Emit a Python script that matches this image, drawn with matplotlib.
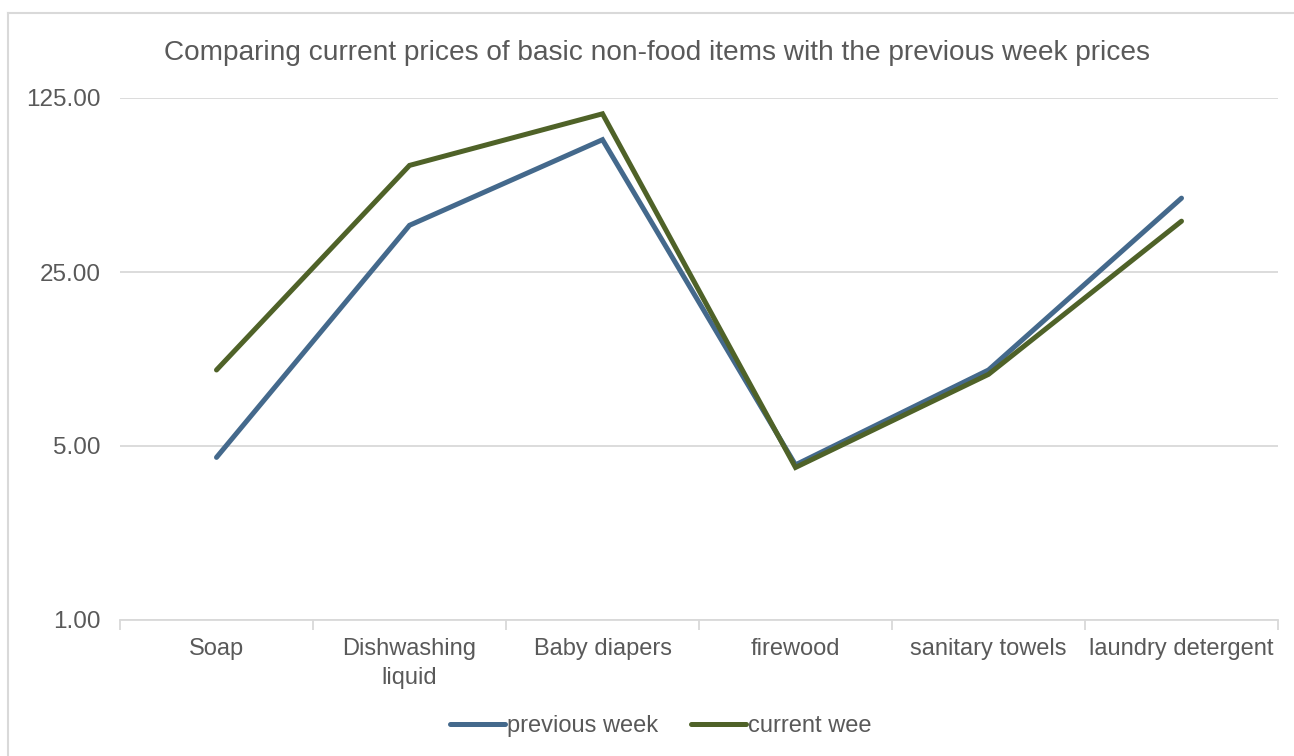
import matplotlib
matplotlib.use("Agg")
import matplotlib.pyplot as plt
from matplotlib.lines import Line2D

categories = ["Soap", "Dishwashing\nliquid", "Baby diapers", "firewood", "sanitary towels", "laundry detergent"]
previous_week = [4.5, 38.5, 85.0, 4.2, 10.1, 49.5]
current_week = [10.1, 67.0, 108.0, 4.1, 9.7, 40.0]
y_ticks = [1, 5, 25, 125]
series_names = ["previous week", "current wee"]

plt.rcParams['font.family'] = ['Liberation Sans', 'DejaVu Sans']

W, H = 1294, 756
fig = plt.figure(figsize=(W/100, H/100), dpi=100)
ax = fig.add_axes([120/W, 1-620/H, (1278-120)/W, (620-98)/H])

x = list(range(len(categories)))
ax.plot(x, previous_week, color="#44698C", lw=3.6, solid_capstyle="round", solid_joinstyle="miter", label=series_names[0], zorder=3)
ax.plot(x, current_week, color="#4F6228", lw=3.6, solid_capstyle="round", solid_joinstyle="miter", label=series_names[1], zorder=4)

ax.set_yscale("log", base=5)
ax.set_ylim(1, 125)
ax.set_yticks(y_ticks)
ax.set_yticklabels([f"{v:.2f}" for v in y_ticks])
ax.yaxis.set_minor_locator(matplotlib.ticker.NullLocator())
ax.set_xlim(-0.5, len(categories) - 0.5)
ax.set_xticks(x)
ax.set_xticklabels(categories, linespacing=1.39)
ax.set_xticks([i - 0.5 for i in range(len(categories) + 1)], minor=True)

ax.grid(axis="y", color="#D9D9D9", lw=1.3, zorder=0)
for s in ["top", "right", "left"]:
    ax.spines[s].set_visible(False)
ax.spines["bottom"].set_color("#D9D9D9")
ax.spines["bottom"].set_linewidth(1.3)
ax.tick_params(axis="y", length=0, labelsize=17.5, labelcolor="#595959", pad=14)
ax.tick_params(axis="x", which="major", length=0, labelsize=17, labelcolor="#595959", pad=13)
ax.tick_params(axis="x", which="minor", length=7, color="#D9D9D9", width=1.3)

fig.text(657/W, 1-53/H, "Comparing current prices of basic non-food items with the previous week prices",
         ha="center", va="center", fontsize=20.2, color="#595959")

leg = fig.legend(loc="center", bbox_to_anchor=(661/W, 1-726/H), ncol=2, frameon=False,
                 fontsize=17, handlelength=2.3, handletextpad=0.1, columnspacing=1.4)
for t in leg.get_texts():
    t.set_color("#595959")
for h in leg.legend_handles:
    h.set_solid_capstyle("round")

# outer chart border (left and top visible, right/bottom beyond the image)
fig.add_artist(Line2D([7.5/W, 7.5/W], [0, 1-12.5/H], transform=fig.transFigure, color="#D9D9D9", lw=1.5))
fig.add_artist(Line2D([7.5/W, 1], [1-12.5/H, 1-12.5/H], transform=fig.transFigure, color="#D9D9D9", lw=1.5))

fig.savefig("out.png", dpi=100)
